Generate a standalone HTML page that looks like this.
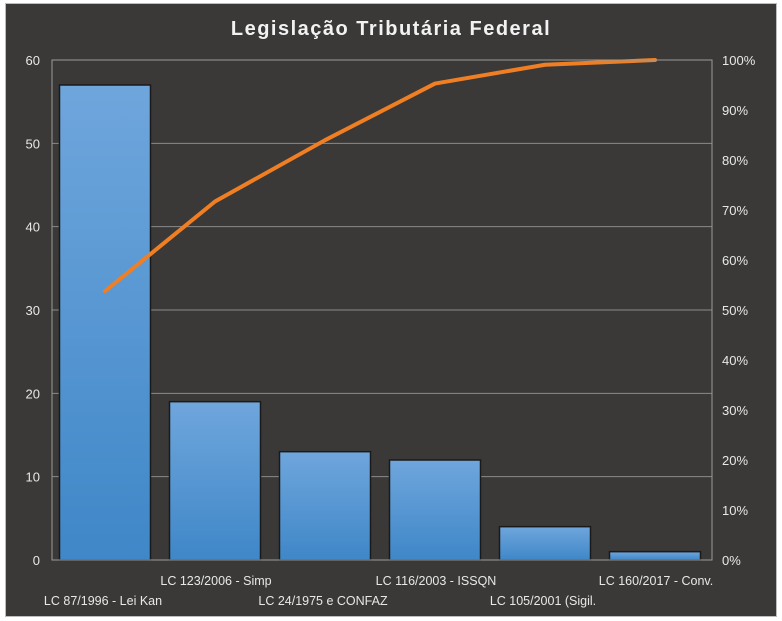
<!DOCTYPE html>
<html><head><meta charset="utf-8"><style>
html,body{margin:0;padding:0;background:#fff;}
svg{display:block;font-family:"Liberation Sans",sans-serif;}
</style></head><body>
<svg width="782" height="621">
<defs><linearGradient id="bg" x1="0" y1="0" x2="0" y2="1"><stop offset="0" stop-color="#6fa6dc"/><stop offset="1" stop-color="#3f87c8"/></linearGradient></defs>
<rect x="0" y="0" width="782" height="621" fill="#ffffff"/>
<rect x="5.5" y="3.5" width="771" height="613" fill="#3a3938" stroke="#bdbdbd"/>
<text x="391" y="35" text-anchor="middle" fill="#f2f2f2" font-size="20" font-weight="bold" letter-spacing="1.5">Legislação  Tributária  Federal</text>
<g id="grid"></g><g id="bars"></g><g id="line"></g><g id="axes"></g>
</svg>
<script>
const categories=["LC 87/1996 - Lei Kan","LC 123/2006 - Simp","LC 24/1975 e CONFAZ","LC 116/2003 - ISSQN","LC 105/2001 (Sigil.","LC 160/2017 - Conv."];
const values=[57,19,13,12,4,1];
const leftTicks=[0,10,20,30,40,50,60];
const rightTicks=["0%","10%","20%","30%","40%","50%","60%","70%","80%","90%","100%"];
const NS="http://www.w3.org/2000/svg";
const X0=52,X1=712,Y0=560,Y1=60;
const bw=(X1-X0)/categories.length;
function y(v){return Y0-(v/60)*(Y0-Y1);}
function yp(p){return Y0-p*(Y0-Y1);}
function xc(i){return X0+bw*(i+0.5);}
function mk(tag,attrs,parent,name){const e=document.createElementNS(NS,tag);for(const k in attrs)e.setAttribute(k,attrs[k]);


document.getElementById(parent).appendChild(e);return e;}
leftTicks.forEach(t=>{
 if(t>0&&t<60) mk('line',{x1:X0,x2:X1,y1:y(t),y2:y(t),stroke:'#8a8a8a','stroke-width':1},'grid','gridline');
 const tx=mk('text',{x:40,y:y(t)+5,'text-anchor':'end',fill:'#e8e8e8','font-size':13},'axes','y-tick-label');tx.textContent=t;
});
rightTicks.forEach((t,i)=>{const tx=mk('text',{x:722,y:yp(i/10)+5,fill:'#e8e8e8','font-size':13},'axes','y2-tick-label');tx.textContent=t;});
mk('rect',{x:X0,y:Y1,width:X1-X0,height:Y0-Y1,fill:'none',stroke:'#9a9a9a'},'axes','plot-area');
values.forEach((v,i)=>{
 mk('rect',{x:xc(i)-47.5,y:y(v),width:91,height:Y0-y(v),fill:'url(#bg)',stroke:'#1a1a1a','stroke-width':1.5},'bars','bar-'+(i+1));
 const tx=mk('text',{x:xc(i)+(i%2? -1:-4),y:i%2?585:605,'text-anchor':'middle',fill:'#e8e8e8','font-size':12.5},'axes','x-tick-label');tx.textContent=categories[i];
});
const total=values.reduce((a,b)=>a+b,0);let c=0;const pts=values.map((v,i)=>{c+=v;return (xc(i)-2)+','+yp(c/total);});
mk('polyline',{points:pts.join(' '),fill:'none',stroke:'#f07f23','stroke-width':4,'stroke-linejoin':'round','stroke-linecap':'round'},'line','cumulative-line');
</script>
</body></html>
